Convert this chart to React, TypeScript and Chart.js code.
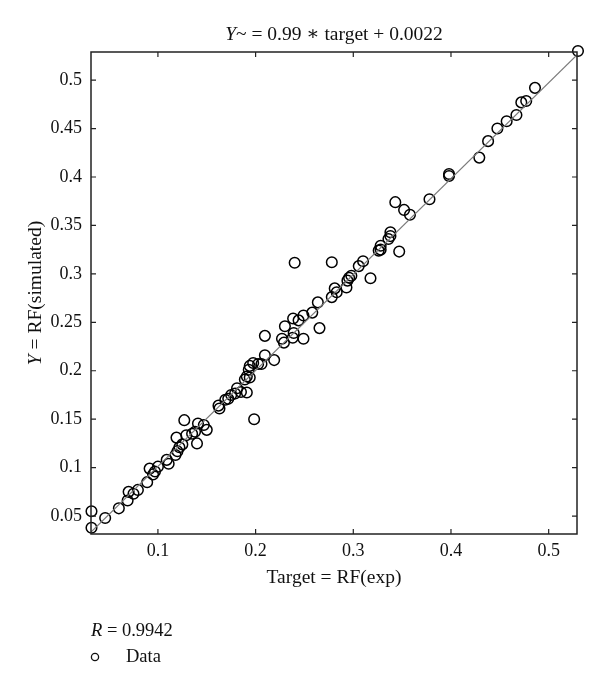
import React, { useEffect, useRef } from "react";
import { Chart, registerables } from "chart.js";

Chart.register(...registerables);

// Experimental RF (target) values
const TARGET = [
  0.032, 0.032, 0.046, 0.06, 0.069, 0.07, 0.075, 0.0795, 0.089, 0.0915,
  0.095, 0.097, 0.1, 0.109, 0.111, 0.119, 0.118, 0.12, 0.122, 0.125,
  0.129, 0.127, 0.14, 0.135, 0.138, 0.15, 0.147, 0.141, 0.162, 0.163,
  0.169, 0.172, 0.175, 0.179, 0.181, 0.185, 0.191, 0.189, 0.191, 0.194,
  0.193, 0.194, 0.1975, 0.2026, 0.206, 0.2095, 0.1985, 0.24, 0.278, 0.2095,
  0.219, 0.227, 0.229, 0.23, 0.238, 0.239, 0.2384, 0.244, 0.249, 0.249,
  0.258, 0.2637, 0.2654, 0.278, 0.281, 0.283, 0.293, 0.294, 0.2957, 0.298,
  0.3056, 0.31, 0.3176, 0.326, 0.328, 0.328, 0.336, 0.338, 0.338, 0.347,
  0.343, 0.352, 0.358, 0.378, 0.398, 0.398, 0.429, 0.438, 0.4475, 0.457,
  0.467, 0.472, 0.477, 0.486, 0.53,
];

// Simulated RF values
const SIMULATED = [
  0.038, 0.055, 0.048, 0.058, 0.066, 0.075, 0.073, 0.077, 0.085, 0.099,
  0.093, 0.096, 0.101, 0.108, 0.104, 0.131, 0.113, 0.117, 0.121, 0.124,
  0.1335, 0.149, 0.125, 0.135, 0.137, 0.139, 0.144, 0.1456, 0.164, 0.161,
  0.17, 0.171, 0.175, 0.1765, 0.182, 0.178, 0.1775, 0.191, 0.194, 0.193,
  0.201, 0.205, 0.208, 0.207, 0.207, 0.216, 0.15, 0.3115, 0.312, 0.236,
  0.211, 0.233, 0.229, 0.246, 0.234, 0.239, 0.254, 0.252, 0.257, 0.233,
  0.26, 0.2706, 0.244, 0.276, 0.285, 0.281, 0.286, 0.293, 0.296, 0.298,
  0.308, 0.313, 0.2954, 0.324, 0.325, 0.329, 0.336, 0.339, 0.343, 0.323,
  0.374, 0.366, 0.361, 0.377, 0.403, 0.401, 0.42, 0.437, 0.45, 0.4575,
  0.464, 0.477, 0.4785, 0.492, 0.53,
];

const X_TICKS = [0.1, 0.2, 0.3, 0.4, 0.5];
const Y_TICKS = [0.05, 0.1, 0.15, 0.2, 0.25, 0.3, 0.35, 0.4, 0.45, 0.5];
const AXIS_MIN = 0.0315;
const AXIS_MAX = 0.529;
const FIT_SLOPE = 0.99;
const FIT_INTERCEPT = 0.0022;
const R_VALUE = "0.9942";
const TITLE_PARTS: [string, boolean][] = [["Y", true], ["~ = 0.99 \u2217 target + 0.0022", false]];
const X_TITLE = "Target = RF(exp)";
const Y_TITLE_PARTS: [string, boolean][] = [["Y", true], [" = RF(simulated)", false]];
const LEGEND_R_PARTS: [string, boolean][] = [["R", true], [" = " + R_VALUE, false]];
const LEGEND_DATA = "Data";

const FONT_FAMILY = "'Liberation Serif', 'DejaVu Serif', serif";
const TICK_SIZE = 18;
const TITLE_SIZE = 19.5;
const LEGEND_SIZE = 18.5;

function drawMixed(
  ctx: CanvasRenderingContext2D,
  parts: [string, boolean][],
  x: number,
  y: number,
  align: "left" | "center",
  size: number
) {
  ctx.textBaseline = "middle";
  ctx.textAlign = "left";
  const widths = parts.map(([t, it]) => {
    ctx.font = `${it ? "italic " : ""}${size}px ${FONT_FAMILY}`;
    return ctx.measureText(t).width;
  });
  const total = widths.reduce((a, b) => a + b, 0);
  let cx = align === "center" ? x - total / 2 : x;
  parts.forEach(([t, it], i) => {
    ctx.font = `${it ? "italic " : ""}${size}px ${FONT_FAMILY}`;
    ctx.fillText(t, cx, y);
    cx += widths[i];
  });
}

const framePlugin = {
  id: "matlabFrame",
  afterDraw(chart: any) {
    const ctx: CanvasRenderingContext2D = chart.ctx;
    const { left, right, top, bottom } = chart.chartArea;
    const xs = chart.scales.x;
    const ys = chart.scales.y;
    ctx.save();
    ctx.strokeStyle = "#222";
    ctx.lineWidth = 1.5;
    ctx.strokeRect(left, top, right - left, bottom - top);
    ctx.lineWidth = 1.2;
    const tl = 5;
    ctx.beginPath();
    X_TICKS.forEach((v) => {
      const px = xs.getPixelForValue(v);
      ctx.moveTo(px, bottom);
      ctx.lineTo(px, bottom - tl);
      ctx.moveTo(px, top);
      ctx.lineTo(px, top + tl);
    });
    Y_TICKS.forEach((v) => {
      const py = ys.getPixelForValue(v);
      ctx.moveTo(left, py);
      ctx.lineTo(left + tl, py);
      ctx.moveTo(right, py);
      ctx.lineTo(right - tl, py);
    });
    ctx.stroke();

    ctx.fillStyle = "#111";
    const midX = (left + right) / 2;
    drawMixed(ctx, TITLE_PARTS, midX, 35, "center", TITLE_SIZE);
    drawMixed(ctx, [[X_TITLE, false]], midX, 578, "center", TITLE_SIZE);

    ctx.save();
    ctx.translate(36, (top + bottom) / 2);
    ctx.rotate(-Math.PI / 2);
    drawMixed(ctx, Y_TITLE_PARTS, 0, 0, "center", TITLE_SIZE);
    ctx.restore();

    drawMixed(ctx, LEGEND_R_PARTS, 91, 631, "left", LEGEND_SIZE);
    ctx.beginPath();
    ctx.strokeStyle = "#111";
    ctx.lineWidth = 1.3;
    ctx.arc(95, 657, 3.6, 0, Math.PI * 2);
    ctx.stroke();
    drawMixed(ctx, [[LEGEND_DATA, false]], 126, 657, "left", LEGEND_SIZE);
    ctx.restore();
  },
};

export default function App() {
  const ref = useRef<HTMLCanvasElement | null>(null);

  useEffect(() => {
    if (!ref.current) return;
    const points = TARGET.map((t, i) => ({ x: t, y: SIMULATED[i] }));
    const fitLine = [AXIS_MIN, AXIS_MAX].map((t) => ({ x: t, y: FIT_SLOPE * t + FIT_INTERCEPT }));
    const tickFont = { family: FONT_FAMILY, size: TICK_SIZE };
    const chart = new Chart(ref.current, {
      type: "scatter",
      data: {
        datasets: [
          {
            type: "line",
            label: "Fit",
            data: fitLine,
            borderColor: "#7a7a7a",
            borderWidth: 1.2,
            pointRadius: 0,
            fill: false,
          } as any,
          {
            label: LEGEND_DATA,
            data: points,
            pointStyle: "circle",
            pointRadius: 5.3,
            pointBorderWidth: 1.5,
            borderColor: "#000",
            backgroundColor: "rgba(0,0,0,0)",
            clip: false,
          } as any,
        ],
      },
      options: {
        responsive: false,
        animation: false,
        devicePixelRatio: 1,
        layout: { padding: { left: 0, right: 23, top: 52, bottom: 115 } },
        plugins: { legend: { display: false }, tooltip: { enabled: false }, title: { display: false } },
        scales: {
          x: {
            type: "linear",
            min: AXIS_MIN,
            max: AXIS_MAX,
            grid: { display: false, drawTicks: false },
            border: { display: false },
            ticks: {
              font: tickFont,
              color: "#111",
              padding: 6,
              maxRotation: 0,
              callback: (v: any) => String(v),
            },
            afterBuildTicks: (s: any) => {
              s.ticks = X_TICKS.map((v) => ({ value: v }));
            },
            afterFit: (s: any) => {
              s.height = 40;
            },
          },
          y: {
            type: "linear",
            min: AXIS_MIN,
            max: AXIS_MAX,
            grid: { display: false, drawTicks: false },
            border: { display: false },
            ticks: {
              font: tickFont,
              color: "#111",
              padding: 9,
              callback: (v: any) => String(v),
            },
            afterBuildTicks: (s: any) => {
              s.ticks = Y_TICKS.map((v) => ({ value: v }));
            },
            afterFit: (s: any) => {
              s.width = 91;
            },
          },
        },
      } as any,
      plugins: [framePlugin],
    });
    return () => chart.destroy();
  }, []);

  return (
    <div style={{ position: "absolute", left: 0, top: 0, width: 600, height: 689, background: "#fff" }}>
      <canvas ref={ref} width={600} height={689} style={{ display: "block" }} />
    </div>
  );
}
